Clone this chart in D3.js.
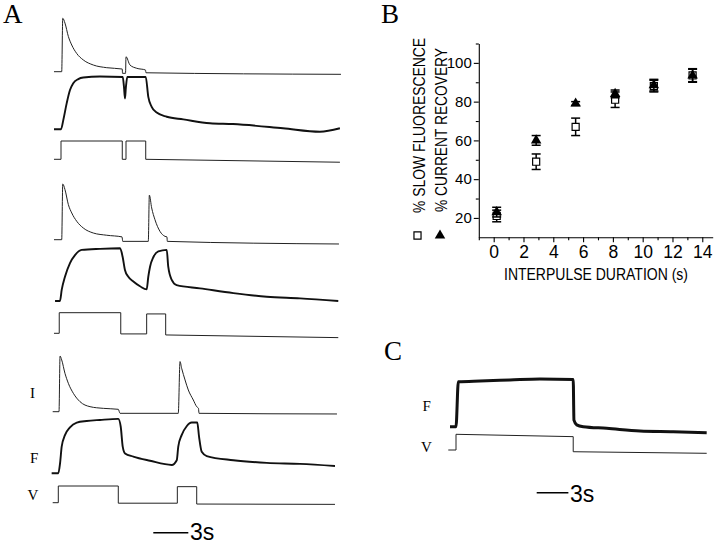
<!DOCTYPE html>
<html>
<head>
<meta charset="utf-8">
<script src="https://cdn.jsdelivr.net/npm/d3@7"></script>
<style>
  body { margin: 0; background: #fff; }
</style>
</head>
<body>
<div id="chart"></div>
<script>
// ---- panel A traces: [time from pulse onset (s), % of peak / plateau] ----
const g1Current = [[-0.6,0],[0.06,0],[0.15,100],[0.34,91],[0.63,66],[0.92,50],[1.35,34],[1.91,22],[2.77,12.5],[3.92,7.5],[5.25,5],[5.27,-3],[5.53,-3],[5.57,28],[5.91,12.5],[6.49,6.4],[7.24,3.2],[7.28,-2],[23.99,-4.9]];
const g1Fluor = [[-0.6,0],[0,0],[0.2,18],[0.49,50],[0.77,75],[1.05,88],[1.48,96],[1.91,99],[3.34,101],[5.29,100],[5.4,80],[5.48,59],[5.56,80],[5.68,100],[7.26,100],[7.48,62],[7.77,43],[8.2,32],[9.06,24],[10.48,19],[12.77,11.5],[14.74,10],[19.02,2],[22.19,-4.6],[23.9,2]];
const g1Volt = [[-0.6,0],[0,0],[0,100],[5.25,100],[5.25,0],[5.57,0],[5.57,100],[7.26,100],[7.26,0],[23.9,-16]];

const g2Current = [[-0.6,0],[0.06,0],[0.15,100],[0.34,90],[0.63,63],[0.92,48],[1.35,33],[1.91,21],[2.77,12],[3.92,8],[5.23,5],[5.29,-3],[7.48,-3],[7.57,80],[7.77,57],[8.05,36],[8.48,15],[8.91,6],[9.08,5],[9.11,-3],[23.82,-7.7]];
const g2Fluor = [[-0.51,0],[-0.09,0],[0.06,21],[0.34,46],[0.77,72],[1.2,87],[1.77,97],[3.34,99],[5.06,100],[5.28,84],[5.48,59],[5.77,46],[6.2,37],[6.77,28],[7.34,22],[7.48,46],[7.63,65],[7.91,83],[8.34,94],[9.06,97],[9.19,65],[9.49,40],[9.91,30],[11.91,24],[14.77,15],[17.63,8],[20.48,5],[23.76,0]];
const g2Volt = [[-0.6,0],[-0.15,0],[-0.15,100],[5.12,100],[5.12,-3],[7.34,-3],[7.34,94],[8.97,94],[8.97,-8],[23.76,-21]];

const g3Current = [[-0.54,0],[0,0],[0.09,100],[0.23,93],[0.51,69],[0.8,51],[1.23,33],[1.8,18],[2.66,9],[3.8,6],[5.08,4.3],[5.23,-2.9],[10.22,-2.9],[10.37,90],[10.51,78],[10.8,57],[11.08,39],[11.51,21],[11.8,9],[11.95,6],[12.0,-2.9],[23.82,-4.1]];
const g3Fluor = [[-0.63,0],[-0.06,0],[0.09,19],[0.23,51],[0.51,73],[0.94,88],[1.52,97],[2.37,100],[3.51,102],[5.08,104],[5.29,89],[5.46,51],[5.66,38],[6.37,32],[7.8,24],[9.66,16],[10.09,25],[10.22,51],[10.51,73],[10.94,90],[11.37,97],[11.85,97],[12.0,70],[12.23,41],[12.66,33],[14.94,25],[17.8,20],[20.65,18],[23.65,14]];
const g3Volt = [[-0.54,0],[-0.06,0],[-0.06,100],[5.08,100],[5.08,-3],[10.14,-3],[10.14,96],[11.8,96],[11.8,-8],[23.65,-10]];

// ---- panel C traces ----
const cFluor = [[-0.57,0],[0,0],[0.22,96],[2.27,98],[5.11,100],[7.95,102],[11.1,101],[11.17,14],[11.43,4],[12.05,0],[14.27,-3.4],[17.42,-9.2],[20.58,-10.7],[23.74,-12.8]];
const cVolt = [[-0.73,0],[0,0],[0,100],[11.1,85],[11.1,-11],[23.74,-21]];

// ---- panel B ----
const interpulse = [0.2, 2.85, 5.5, 8.15, 10.75, 13.35];
const fluorRecovery = [21, 49, 67, 81, 88, 93.5];
const fluorErr = [3, 4, 4.5, 4, 3, 3.2];
const currentRecovery = [23, 60, 79, 84, 88.5, 93.5];
const currentErr = [2.5, 2.5, 1, 2, 3, 3.5];
const xTicksB = [0, 2, 4, 6, 8, 10, 12, 14];
const xMinorB = [-1, 1, 3, 5, 7, 9, 11, 13];
const yTicksB = [20, 40, 60, 80, 100];
const yMinorB = [30, 50, 70, 90, 110];
const scaleBarSec = 3;

// layout
const W = 720, H = 543;
const PX_PER_S_A = 11.67;
const PX_PER_S_C = 10.56;
const SANS = "Liberation Sans, Arial, Helvetica, sans-serif";
const SERIF = "Liberation Serif, Times New Roman, serif";

const groups = [
  { cur: g1Current, flu: g1Fluor, volt: g1Volt, t0: 61, iBase: 71.7, iAmp: 53.4, fBase: 129.3, fAmp: 52.3, vBase: 159.3, vAmp: 18.3 },
  { cur: g2Current, flu: g2Fluor, volt: g2Volt, t0: 61, iBase: 239.7, iAmp: 55.7, fBase: 301, fAmp: 52.7, vBase: 333.3, vAmp: 20.6 },
  { cur: g3Current, flu: g3Fluor, volt: g3Volt, t0: 59, iBase: 411.7, iAmp: 55.7, fBase: 473.3, fAmp: 52.3, vBase: 502.7, vAmp: 16.7 }
];

const svg = d3.select("#chart").append("svg")
  .attr("width", W)
  .attr("height", H)
  .style("background", "#fff");

function drawTrace(data, x, base, amp, curve, width, color) {
  const y = d3.scaleLinear().domain([0, 100]).range([base, base - amp]);
  const line = d3.line()
    .x(d => x(d[0]))
    .y(d => y(d[1]))
    .curve(curve);
  svg.append("path")
    .datum(data)
    .attr("fill", "none")
    .attr("stroke", color)
    .attr("stroke-width", width)
    .attr("stroke-linejoin", "round")
    .attr("d", line);
}

// panel A
let xLast;
groups.forEach(g => {
  const x = d3.scaleLinear().domain([0, 1]).range([g.t0, g.t0 + PX_PER_S_A]);
  drawTrace(g.cur, x, g.iBase, g.iAmp, d3.curveMonotoneX, 1, "#222");
  drawTrace(g.flu, x, g.fBase, g.fAmp, d3.curveMonotoneX, 1.9, "#111");
  drawTrace(g.volt, x, g.vBase, g.vAmp, d3.curveLinear, 1, "#222");
  xLast = x;
});

// scale bar A
const barA0 = 153.3;
svg.append("line")
  .attr("x1", barA0).attr("x2", barA0 + xLast(scaleBarSec) - xLast(0))
  .attr("y1", 532.7).attr("y2", 532.7)
  .attr("stroke", "#000").attr("stroke-width", 1.4);
svg.append("text").attr("x", 190).attr("y", 539.5)
  .attr("font-family", SANS).attr("font-size", 23).text("3s");

// panel C
const xC = d3.scaleLinear().domain([0, 1]).range([456, 456 + PX_PER_S_C]);
drawTrace(cFluor, xC, 426.7, 46.7, d3.curveMonotoneX, 3, "#111");
drawTrace(cVolt, xC, 450, 15.7, d3.curveLinear, 1, "#222");
const barC0 = 536.7;
svg.append("line")
  .attr("x1", barC0).attr("x2", barC0 + xC(scaleBarSec) - xC(0))
  .attr("y1", 492.7).attr("y2", 492.7)
  .attr("stroke", "#000").attr("stroke-width", 1.4);
svg.append("text").attr("x", 570).attr("y", 502)
  .attr("font-family", SANS).attr("font-size", 23).text("3s");

// letters
const labels = [
  ["A", 3, 22.5, 27], ["B", 381, 22.5, 27], ["C", 384, 360, 27],
  ["I", 30, 398, 15], ["F", 30, 463, 15], ["V", 27.5, 500, 15],
  ["F", 422.5, 410.5, 15], ["V", 421, 452, 15]
];
labels.forEach(l => {
  svg.append("text").attr("x", l[1]).attr("y", l[2])
    .attr("font-family", SERIF).attr("font-size", l[3]).text(l[0]);
});

// panel B
const xB = d3.scaleLinear().domain([-1, 14.7]).range([478.8, 712.7]);
const yB = d3.scaleLinear().domain([10, 110]).range([237.3, 43.5]);

const gx = svg.append("g").attr("transform", `translate(0,${yB(10)})`)
  .call(d3.axisBottom(xB).tickValues(xTicksB).tickSize(5).tickSizeOuter(0).tickPadding(3));
gx.selectAll("text").attr("font-size", 17.5).attr("font-family", SANS);
svg.append("g").attr("transform", `translate(0,${yB(10)})`)
  .call(d3.axisBottom(xB).tickValues(xMinorB).tickSize(3).tickFormat(""))
  .select(".domain").remove();

const gy = svg.append("g").attr("transform", `translate(${xB(-1)},0)`)
  .call(d3.axisLeft(yB).tickValues(yTicksB).tickSize(5).tickSizeOuter(0).tickPadding(2));
gy.selectAll("text").attr("font-size", 15).attr("font-family", SANS);
svg.append("g").attr("transform", `translate(${xB(-1)},0)`)
  .call(d3.axisLeft(yB).tickValues(yMinorB).tickSize(3).tickFormat(""))
  .select(".domain").remove();

svg.selectAll(".domain, .tick line").attr("stroke", "#000").attr("stroke-width", 1.1);

svg.append("text").attr("x", 596).attr("y", 280)
  .attr("text-anchor", "middle").attr("font-family", SANS).attr("font-size", 16)
  .attr("textLength", 184).attr("lengthAdjust", "spacingAndGlyphs")
  .text("INTERPULSE DURATION (s)");
svg.append("text").attr("transform", "translate(425,213) rotate(-90)")
  .attr("font-family", SANS).attr("font-size", 16)
  .attr("textLength", 175).attr("lengthAdjust", "spacingAndGlyphs")
  .text("% SLOW FLUORESCENCE");
svg.append("text").attr("transform", "translate(446.5,212) rotate(-90)")
  .attr("font-family", SANS).attr("font-size", 16)
  .attr("textLength", 164).attr("lengthAdjust", "spacingAndGlyphs")
  .text("% CURRENT RECOVERY");

const square = d3.symbol().type(d3.symbolSquare).size(50);
const triangle = d3.symbol().type(d3.symbolTriangle).size(48);

// legend symbols
svg.append("path").attr("d", square()).attr("transform", "translate(417.5,235.5)")
  .attr("fill", "#fff").attr("stroke", "#000").attr("stroke-width", 1.2);
svg.append("path").attr("d", triangle()).attr("transform", "translate(440,235.5)")
  .attr("fill", "#000");

function errorBars(vals, errs) {
  const g = svg.append("g").attr("stroke", "#000").attr("stroke-width", 1.5);
  interpulse.forEach((t, i) => {
    const cx = xB(t);
    const y1 = yB(vals[i] + errs[i]), y2 = yB(vals[i] - errs[i]);
    g.append("line").attr("x1", cx).attr("x2", cx).attr("y1", y1).attr("y2", y2);
    g.append("line").attr("x1", cx - 4.5).attr("x2", cx + 4.5).attr("y1", y1).attr("y2", y1);
    g.append("line").attr("x1", cx - 4.5).attr("x2", cx + 4.5).attr("y1", y2).attr("y2", y2);
  });
}

errorBars(fluorRecovery, fluorErr);
svg.append("g").selectAll("path").data(interpulse).join("path")
  .attr("d", square())
  .attr("transform", (t, i) => `translate(${xB(t)},${yB(fluorRecovery[i])})`)
  .attr("fill", "#fff").attr("stroke", "#000").attr("stroke-width", 1.2);

errorBars(currentRecovery, currentErr);
svg.append("g").selectAll("path").data(interpulse).join("path")
  .attr("d", triangle())
  .attr("transform", (t, i) => `translate(${xB(t)},${yB(currentRecovery[i])})`)
  .attr("fill", "#000");
</script>
</body>
</html>
